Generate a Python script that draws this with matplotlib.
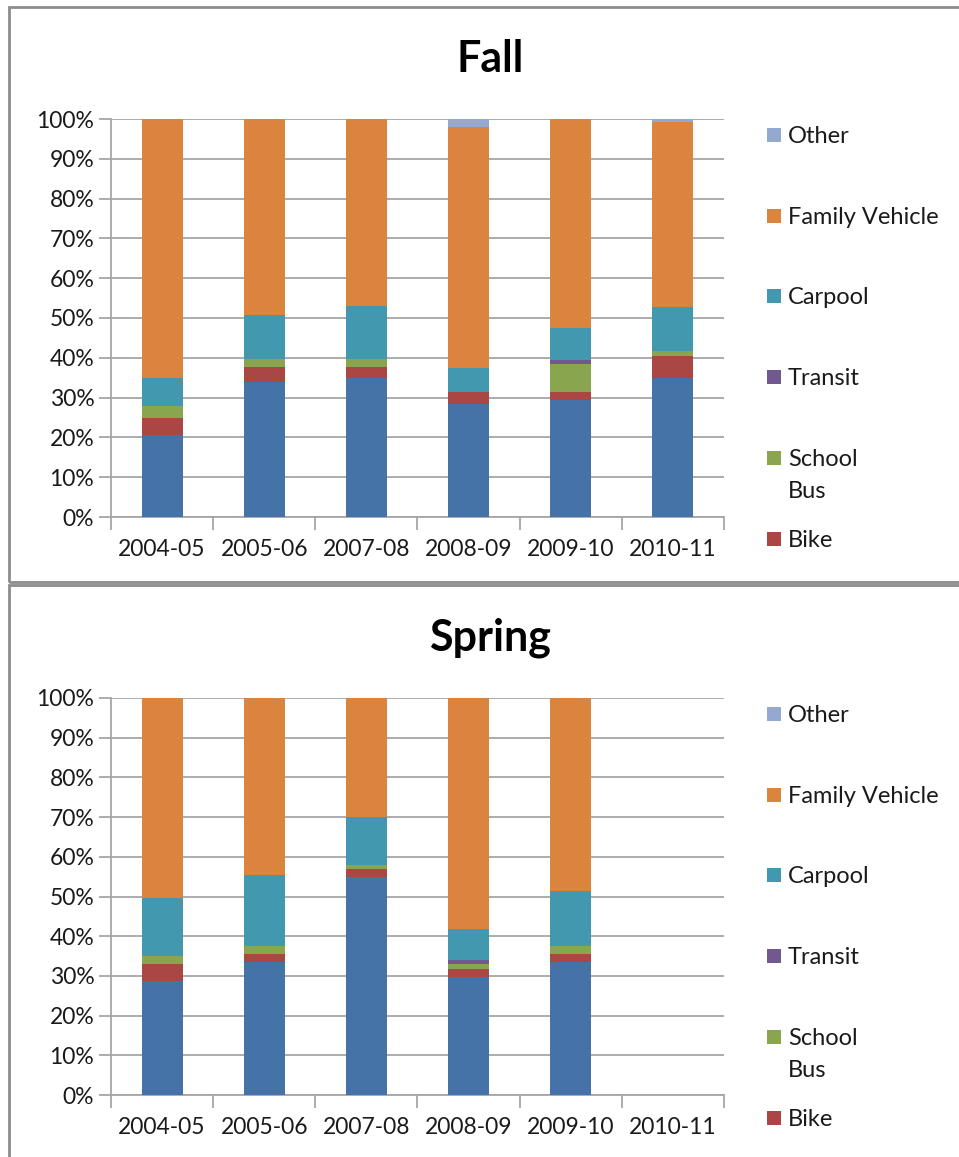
import matplotlib
matplotlib.use("Agg")
import matplotlib.pyplot as plt
import matplotlib.patches as mpatches
import numpy as np

plt.rcParams["font.family"] = ["Lato", "DejaVu Sans"]

YEARS = ["2004-05", "2005-06", "2007-08", "2008-09", "2009-10", "2010-11"]
MODES = ["Walk", "Bike", "School\nBus", "Transit", "Carpool", "Family Vehicle", "Other"]
COLORS = ["#4572A7", "#AA4643", "#89A54E", "#71588F", "#4198AF", "#DB843D", "#93A9CF"]

# Fall shares (%), one list per mode, in YEARS order
FALL_WALK = [20.7, 34.0, 35.0, 28.5, 29.4, 35.0]
FALL_BIKE = [4.2, 3.8, 2.8, 2.9, 2.0, 5.4]
FALL_SCHOOL_BUS = [3.0, 1.9, 1.9, 0.0, 7.1, 1.3]
FALL_TRANSIT = [0.0, 0.0, 0.0, 0.0, 0.9, 0.0]
FALL_CARPOOL = [7.1, 11.0, 13.3, 6.1, 8.1, 11.0]
FALL_FAMILY = [65.0, 49.3, 47.0, 60.4, 52.5, 46.5]
FALL_OTHER = [0.0, 0.0, 0.0, 2.1, 0.0, 0.8]

# Spring shares (%), no survey for 2010-11
SPRING_WALK = [28.7, 33.6, 55.0, 29.8, 33.6, 0.0]
SPRING_BIKE = [4.3, 1.9, 1.9, 1.9, 1.9, 0.0]
SPRING_SCHOOL_BUS = [2.0, 2.1, 1.0, 1.3, 2.1, 0.0]
SPRING_TRANSIT = [0.0, 0.0, 0.0, 1.0, 0.0, 0.0]
SPRING_CARPOOL = [14.7, 17.8, 12.0, 7.8, 13.8, 0.0]
SPRING_FAMILY = [50.3, 44.6, 30.1, 58.2, 48.6, 0.0]
SPRING_OTHER = [0.0, 0.0, 0.0, 0.0, 0.0, 0.0]

FALL = [FALL_WALK, FALL_BIKE, FALL_SCHOOL_BUS, FALL_TRANSIT, FALL_CARPOOL, FALL_FAMILY, FALL_OTHER]
SPRING = [SPRING_WALK, SPRING_BIKE, SPRING_SCHOOL_BUS, SPRING_TRANSIT, SPRING_CARPOOL,
          SPRING_FAMILY, SPRING_OTHER]

W, H = 959, 1157
GRID = "#A6A6A6"
BORDER = "#8C8C8C"
TXT = "#1a1a1a"

fig = plt.figure(figsize=(W / 100, H / 100), dpi=100)


def px_axes(left, top, right, bottom):
    return fig.add_axes([left / W, 1 - bottom / H, (right - left) / W, (bottom - top) / H])


def draw_panel(series, title, ax_top, ax_bottom, panel_top, panel_bottom):
    # chart frame
    fig.patches.append(mpatches.Rectangle(
        (9 / W, 1 - panel_bottom / H), (W + 20) / W, (panel_bottom - panel_top) / H,
        transform=fig.transFigure, fill=False, edgecolor=BORDER, linewidth=2))

    ax = px_axes(111, ax_top, 724, ax_bottom)
    x = np.arange(len(YEARS))
    bottom = np.zeros(len(YEARS))
    for vals, col in zip(series, COLORS):
        vals = np.array(vals)
        ax.bar(x, vals, width=0.4, bottom=bottom, color=col, zorder=3)
        bottom += vals

    ax.set_xlim(-0.5, len(YEARS) - 0.5)
    ax.set_ylim(0, 100)
    ax.set_yticks(np.arange(0, 101, 10))
    ax.set_yticklabels([f"{v}%" for v in range(0, 101, 10)], fontsize=16.5, color=TXT)
    ax.set_xticks(x)
    ax.set_xticklabels(YEARS, fontsize=16.5, color=TXT)
    ax.set_xticks(np.arange(-0.5, len(YEARS)), minor=True)
    ax.tick_params(axis="x", which="major", length=0, pad=16)
    ax.tick_params(axis="x", which="minor", length=9, width=1.3, color=GRID)
    ax.tick_params(axis="y", length=9, width=1.3, color=GRID, pad=3)
    ax.grid(axis="y", color=GRID, linewidth=1.3, zorder=0)
    for s in ["top", "right"]:
        ax.spines[s].set_visible(False)
    for s in ["left", "bottom"]:
        ax.spines[s].set_color(GRID)
        ax.spines[s].set_linewidth(1.3)

    fig.text(490 / W, 1 - (ax_top - 60) / H, title, ha="center", va="center",
             fontsize=31, fontweight="bold")

    # legend, top entry first as in the original
    ys = [16, 97, 177, 258, 339, 420]
    labels = ["Other", "Family Vehicle", "Carpool", "Transit", "School\nBus", "Bike"]
    cols = [COLORS[6], COLORS[5], COLORS[4], COLORS[3], COLORS[2], COLORS[1]]
    for dy, lab, col in zip(ys, labels, cols):
        yc = ax_top + dy
        fig.patches.append(mpatches.Rectangle(
            (767 / W, 1 - (yc + 7) / H), 14 / W, 14 / H,
            transform=fig.transFigure, facecolor=col, edgecolor="none"))
        for k, line in enumerate(lab.split("\n")):
            fig.text(788 / W, 1 - (yc + 8 + 32 * k) / H, line, ha="left", va="baseline",
                     fontsize=17, color=TXT)
    return ax


draw_panel(FALL, "Fall", 119, 517, 7, 582)
draw_panel(SPRING, "Spring", 698, 1095, 585, H + 20)

fig.savefig("out.png", dpi=100, facecolor="white")
plt.close(fig)
